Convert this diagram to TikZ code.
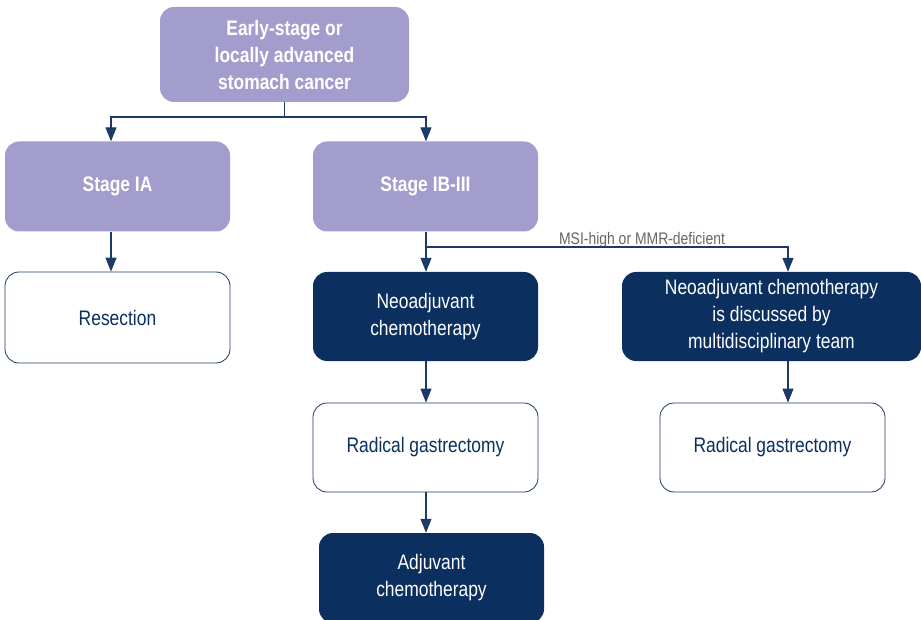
\documentclass[tikz,border=0pt]{standalone}
\usepackage{fontspec}
\setmainfont{Liberation Sans}[FakeStretch=0.83]
\usetikzlibrary{arrows.meta}
\definecolor{lavender}{HTML}{A39DCE}
\definecolor{navy}{HTML}{0B2F5F}
\definecolor{linkcol}{HTML}{1B3A66}

\begin{document}
\begin{tikzpicture}[x=1pt,y=-1pt,
    box/.style={rounded corners=14pt, minimum width=225pt, minimum height=90pt,
                inner sep=0pt, align=center, font=\fontsize{21}{27}\selectfont},
    stagebox/.style={box, fill=lavender, text=white, font=\bfseries\fontsize{21}{27}\selectfont},
    darkbox/.style={box, fill=navy, text=white},
    plainbox/.style={box, draw=linkcol, line width=0.8pt, fill=white, text=navy},
    link/.style={draw=linkcol, line width=1.2pt},
    arr/.style={link, -{Triangle[length=14pt,width=11pt]}}]
    \useasboundingbox (0,0) rectangle (921,620);

    \node[stagebox, minimum width=249pt, minimum height=95pt] (cancer) at (284.5,54.5)
        {Early-stage or\\locally advanced\\stomach cancer};
    \node[stagebox] (IA) at (117.5,186.5) {Stage IA};
    \node[stagebox] (IBIII) at (425.5,186.5) {Stage IB-III};
    \node[plainbox, minimum height=91pt] (resect) at (117.5,317.5) {Resection};
    \node[darkbox, minimum height=89pt] (neo) at (425.5,316.5) {Neoadjuvant\\chemotherapy};
    \node[darkbox, minimum width=299pt, minimum height=89pt] (neomdt) at (771.5,316.5)
        {Neoadjuvant chemotherapy\\is discussed by\\multidisciplinary team};
    \node[plainbox, minimum height=89pt] (gastrA) at (425.5,447.5) {Radical gastrectomy};
    \node[plainbox, minimum height=89pt] (gastrB) at (772.5,447.5) {Radical gastrectomy};
    \node[darkbox] (adj) at (431.5,578) {Adjuvant\\chemotherapy};
    \node[text=gray!80!black, font=\fontsize{16.8}{18}\selectfont] (msi) at (642,240)
        {MSI-high or MMR-deficient};

    \coordinate (split) at (284.5,117);
    \coordinate (msisplit) at (426,247);

    \draw[link] (cancer.south) -- (split);
    \draw[arr] (split) -| ([xshift=-6.5pt]IA.north);
    \draw[arr] (split) -| ([xshift=0.5pt]IBIII.north);
    \draw[arr] ([xshift=-6.5pt]IA.south) -- ([xshift=-6.5pt]resect.north);
    \draw[arr] ([xshift=0.5pt]IBIII.south) -- ([xshift=0.5pt]neo.north);
    \draw[arr] (msisplit) -| ([xshift=16.5pt]neomdt.north);
    \draw[arr] ([xshift=0.5pt]neo.south) -- ([xshift=0.5pt]gastrA.north);
    \draw[arr] ([xshift=16.5pt]neomdt.south) -- ([xshift=15.5pt]gastrB.north);
    \draw[arr] ([xshift=0.5pt]gastrA.south) -- ([xshift=-5.5pt]adj.north);
\end{tikzpicture}
\end{document}
